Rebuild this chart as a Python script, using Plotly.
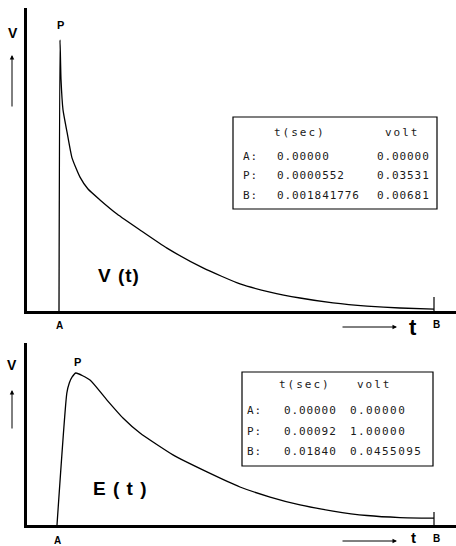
import plotly.graph_objects as go

# ---------------------------------------------------------------------------
# Data
# ---------------------------------------------------------------------------
# V(t): time as a fraction of the A-B interval, voltage as a fraction of the peak
V_T_FRAC = [0.0, 0.0027, 0.0053, 0.0107, 0.0213, 0.0347, 0.056, 0.0773, 0.1093,
            0.1547, 0.216, 0.288, 0.384, 0.4827, 0.5627, 0.6427, 0.7307,
            0.8213, 0.9093, 1.0]
V_V_FRAC = [0.0, 1.0, 0.856, 0.742, 0.661, 0.565, 0.494, 0.450, 0.410,
            0.358, 0.299, 0.232, 0.159, 0.100, 0.070, 0.048, 0.030,
            0.018, 0.011, 0.007]

# E(t): time in seconds, voltage in volts
E_T_SEC = [0.0, 0.00048, 0.00060, 0.00074, 0.00092, 0.00161, 0.00244, 0.00322,
           0.00405, 0.00566, 0.00732, 0.00893, 0.01040, 0.01186, 0.01347,
           0.01513, 0.01674, 0.01840]
E_VOLT = [0.0, 0.868, 0.934, 0.974, 1.0, 0.954, 0.822, 0.704,
          0.605, 0.461, 0.349, 0.250, 0.184, 0.132, 0.092,
          0.0625, 0.049, 0.0455095]

# Tables of the marked points
ROW_LABELS = ["A:", "P:", "B:"]
V_TABLE_T = ["0.00000", "0.0000552", "0.001841776"]
V_TABLE_VOLT = ["0.00000", "0.03531", "0.00681"]
E_TABLE_T = ["0.00000", "0.00092", "0.01840"]
E_TABLE_VOLT = ["0.00000", "1.00000", "0.0455095"]
HEADERS = ["t(sec)", "volt"]

# ---------------------------------------------------------------------------
# Page geometry (pixels)
# ---------------------------------------------------------------------------
W, H = 456, 546


def px(x):
    return x / W


def py(y):
    return 1 - y / H


AX_LEFT = 27
# top panel
V_A_PX, V_B_PX, V_BASE, V_PEAK, V_TOP = 59, 434, 311, 40, 8
# bottom panel
E_A_PX, E_B_PX, E_BASE, E_PEAK, E_TOP = 57, 434, 525, 373, 343

v_span = V_B_PX - V_A_PX
v_xrange = [(AX_LEFT - V_A_PX) / v_span, (W - V_A_PX) / v_span]
v_yrange = [0, (V_BASE - V_TOP) / (V_BASE - V_PEAK)]

e_tb = E_T_SEC[-1]
e_span = E_B_PX - E_A_PX
e_xrange = [(AX_LEFT - E_A_PX) / e_span * e_tb, (W - E_A_PX) / e_span * e_tb]
e_yrange = [0, (E_BASE - E_TOP) / (E_BASE - E_PEAK) * max(E_VOLT)]

BOLD = "Liberation Sans"
TABLE_FONT = "DejaVu Sans Mono"

fig = go.Figure()

line_style = dict(color="black", width=1.3, shape="spline", smoothing=0.5)
fig.add_trace(go.Scatter(x=V_T_FRAC, y=V_V_FRAC, mode="lines", line=line_style,
                         xaxis="x", yaxis="y", hoverinfo="skip", showlegend=False))
fig.add_trace(go.Scatter(x=E_T_SEC, y=E_VOLT, mode="lines", line=line_style,
                         xaxis="x2", yaxis="y2", hoverinfo="skip", showlegend=False))

axis_common = dict(showline=True, linecolor="black", linewidth=2.5, showgrid=False,
                   zeroline=False, showticklabels=False, ticks="", fixedrange=True)

fig.update_layout(
    width=W, height=H,
    margin=dict(l=0, r=0, t=0, b=0),
    paper_bgcolor="white", plot_bgcolor="white",
    xaxis=dict(domain=[px(AX_LEFT), 1], range=v_xrange, anchor="y", **axis_common),
    yaxis=dict(domain=[py(V_BASE), py(V_TOP)], range=v_yrange, anchor="x", **axis_common),
    xaxis2=dict(domain=[px(AX_LEFT), 1], range=e_xrange, anchor="y2", **axis_common),
    yaxis2=dict(domain=[py(E_BASE), py(E_TOP)], range=e_yrange, anchor="x2", **axis_common),
)

shapes = []
# B end ticks
shapes.append(dict(type="line", xref="x", yref="y domain", x0=V_T_FRAC[-1], x1=V_T_FRAC[-1],
                   y0=0, y1=14 / (V_BASE - V_TOP), line=dict(color="black", width=1.2)))
shapes.append(dict(type="line", xref="x2", yref="y2 domain", x0=E_T_SEC[-1], x1=E_T_SEC[-1],
                   y0=0, y1=13 / (E_BASE - E_TOP), line=dict(color="black", width=1.2)))
# table frames
shapes.append(dict(type="rect", xref="paper", yref="paper", x0=px(233), x1=px(437),
                   y0=py(209), y1=py(117), line=dict(color="black", width=1.2)))
shapes.append(dict(type="rect", xref="paper", yref="paper", x0=px(242), x1=px(433),
                   y0=py(466), y1=py(372), line=dict(color="black", width=1.2)))
fig.update_layout(shapes=shapes)

ann = []


def label(text, x, y, size, xref="paper", yref="paper", xanchor="center", yanchor="middle",
          yshift=0, xshift=0, family=BOLD, color="black"):
    ann.append(dict(text=text, x=x, y=y, xref=xref, yref=yref, xanchor=xanchor,
                    yanchor=yanchor, yshift=yshift, xshift=xshift, showarrow=False,
                    font=dict(family=family, size=size, color=color)))


def arrow(x_tip, y_tip, dx, dy):
    ann.append(dict(text="", x=px(x_tip), y=py(y_tip), xref="paper", yref="paper",
                    ax=dx, ay=dy, axref="pixel", ayref="pixel", showarrow=True,
                    arrowhead=2, arrowsize=0.9, arrowwidth=1, arrowcolor="black",
                    standoff=0, startstandoff=0))


# top panel labels
vp = V_V_FRAC.index(max(V_V_FRAC))
label("<b>P</b>", V_T_FRAC[vp], V_V_FRAC[vp], 11, xref="x", yref="y", yanchor="bottom", yshift=7)
label("<b>A</b>", V_T_FRAC[0], 0, 10, xref="x", yref="y", yanchor="top", yshift=-7)
label("<b>B</b>", V_T_FRAC[-1], 0, 10, xref="x", yref="y", yanchor="top", yshift=-6, xshift=2)
label("<b>V</b>", px(13), py(33), 14)
arrow(12, 55, 0, 53)
label("<b>t</b>", px(413), py(327), 22)
arrow(397, 327, -56, 0)
label("<b><span style='letter-spacing:1px'>V (t)</span></b>", px(119), py(275), 19)

# bottom panel labels
ep = E_VOLT.index(max(E_VOLT))
label("<b>P</b>", E_T_SEC[ep], E_VOLT[ep], 11, xref="x2", yref="y2", yanchor="bottom", yshift=3,
      xshift=2)
label("<b>A</b>", E_T_SEC[0], 0, 10, xref="x2", yref="y2", yanchor="top", yshift=-8)
label("<b>B</b>", E_T_SEC[-1], 0, 10, xref="x2", yref="y2", yanchor="top", yshift=-6, xshift=2)
label("<b>V</b>", px(12), py(365), 14)
arrow(12, 390, 0, 40)
label("<b>t</b>", px(413), py(537), 15)
arrow(397, 541, -56, 0)
label("<b><span style='letter-spacing:1px'>E ( t )</span></b>", px(120), py(488), 19)


def cell(text, x, y, xanchor="left", spacing=0.9):
    label(f"<span style='letter-spacing:{spacing}px'>{text}</span>", px(x), py(y), 11,
          xanchor=xanchor, family=TABLE_FONT, color="#1a1a1a")


# V(t) table
cell(HEADERS[0], 300, 132, xanchor="center", spacing=2)
cell(HEADERS[1], 402, 132, xanchor="center", spacing=2)
for i, (lab, tv, vv) in enumerate(zip(ROW_LABELS, V_TABLE_T, V_TABLE_VOLT)):
    y = 156 + 19.5 * i
    cell(lab, 241, y)
    cell(tv, 275, y)
    cell(vv, 375, y)

# E(t) table
cell(HEADERS[0], 305, 384, xanchor="center", spacing=2)
cell(HEADERS[1], 374, 384, xanchor="center", spacing=2)
for i, (lab, tv, vv) in enumerate(zip(ROW_LABELS, E_TABLE_T, E_TABLE_VOLT)):
    y = 410 + 21 * i
    cell(lab, 245, y)
    cell(tv, 282, y)
    cell(vv, 348, y, spacing=1.4)

fig.update_layout(annotations=ann)

fig.write_html("out.html")
